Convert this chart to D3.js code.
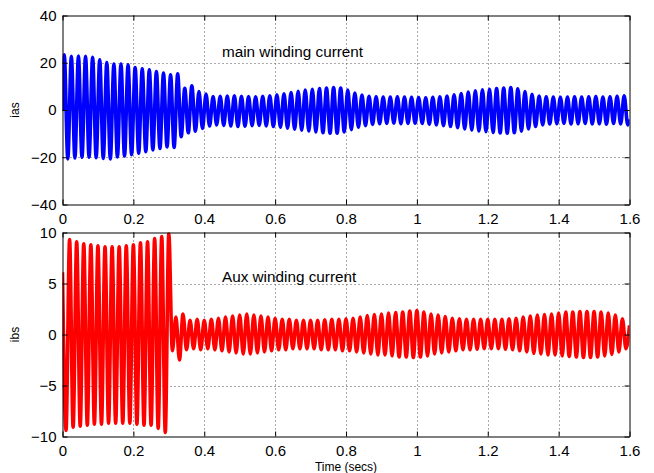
<!DOCTYPE html>
<html>
<head>
<meta charset="utf-8">
<script src="https://cdn.jsdelivr.net/npm/d3@7"></script>
<style>
  body { margin: 0; background: #fff; }
  svg { display: block; font-family: "Liberation Sans", Arial, sans-serif; }
</style>
</head>
<body>
<svg id="drawing_region"></svg>
<script>
// time axis ticks and y ticks
const xTicks = [0, 0.2, 0.4, 0.6, 0.8, 1, 1.2, 1.4, 1.6];
const iasTicks = [-40, -20, 0, 20, 40];
const ibsTicks = [-10, -5, 0, 5, 10];

// supply period (50 Hz)
const period = 0.02;

// main winding current: positive / negative peak of every cycle
const iasStart = 0, iasEnd = -4;
const iasUpper = [23.4, 22.7, 22.8, 22.7, 22.3, 21.3, 20.1, 19.4, 19.5, 19.1,
  18.0, 17.4, 17.0, 16.3, 15.6, 14.9, 15.3, 9.2, 10.2, 7.8,
  6.8, 5.7, 5.8, 5.9, 6.0, 5.8, 5.7, 5.6, 5.8, 6.0,
  6.4, 6.9, 7.4, 7.9, 8.4, 8.8, 9.1, 9.3, 9.5, 9.3,
  8.4, 7.2, 6.3, 5.8, 5.6, 5.5, 5.5, 5.6, 5.5, 5.4,
  5.3, 5.2, 5.4, 5.6, 5.9, 6.4, 7.0, 7.6, 8.1, 8.5,
  8.8, 9.1, 9.3, 9.5, 9.0, 7.8, 6.6, 5.9, 5.6, 5.5,
  5.4, 5.5, 5.6, 5.5, 5.6, 5.7, 5.5, 5.6, 5.8, 6.0];
const iasLower = [-20.7, -20.3, -20.0, -20.0, -20.2, -20.5, -20.7, -19.9, -19.5, -18.9,
  -18.3, -17.6, -16.9, -16.3, -15.6, -15.9, -11.3, -9.6, -9.0, -7.8,
  -6.8, -6.3, -6.5, -6.8, -7.0, -6.9, -6.6, -6.5, -6.7, -7.0,
  -7.3, -7.7, -8.1, -8.5, -8.9, -9.3, -9.6, -9.8, -9.8, -9.3,
  -8.3, -7.3, -6.6, -6.1, -5.8, -5.7, -5.6, -5.8, -5.7, -5.6,
  -5.7, -6.0, -6.3, -6.6, -7.0, -7.5, -8.0, -8.5, -8.9, -9.2,
  -9.5, -9.7, -9.8, -9.6, -9.0, -8.0, -7.0, -6.3, -5.9, -5.8,
  -5.7, -5.9, -5.8, -5.7, -5.9, -5.8, -6.0, -5.7, -5.9, -6.3];

// aux winding current: negative / positive peak of every cycle
const ibsStart = 6.1;
const ibsLower = [-9.4, -9.1, -9.0, -8.9, -8.8, -8.8, -8.7, -8.7, -8.7, -8.7,
  -8.8, -8.9, -8.9, -9.2, -9.6, -1.6, -2.5, -1.5, -1.4, -1.5,
  -1.4, -1.5, -1.6, -1.7, -1.8, -1.9, -1.9, -1.8, -1.7, -1.6,
  -1.5, -1.5, -1.4, -1.4, -1.4, -1.4, -1.5, -1.5, -1.5, -1.6,
  -1.6, -1.7, -1.8, -1.9, -2.0, -2.0, -2.1, -2.2, -2.2, -2.25,
  -2.2, -2.1, -1.9, -1.8, -1.7, -1.6, -1.5, -1.5, -1.45, -1.4,
  -1.4, -1.4, -1.45, -1.5, -1.6, -1.7, -1.85, -1.9, -2.0, -2.0,
  -2.1, -2.15, -2.2, -2.25, -2.25, -2.2, -2.1, -1.95, -1.7, -1.4];
const ibsUpper = [9.3, 9.1, 8.9, 8.8, 8.7, 8.6, 8.6, 8.6, 8.7, 8.8,
  9.0, 9.1, 9.4, 9.6, 9.9, 1.7, 2.0, 1.4, 1.5, 1.4,
  1.5, 1.6, 1.7, 1.8, 1.9, 2.0, 1.9, 1.8, 1.7, 1.6,
  1.5, 1.5, 1.4, 1.4, 1.4, 1.4, 1.45, 1.5, 1.5, 1.55,
  1.6, 1.7, 1.85, 1.95, 2.0, 2.1, 2.15, 2.2, 2.3, 2.35,
  2.2, 2.0, 1.9, 1.75, 1.6, 1.55, 1.5, 1.5, 1.5, 1.5,
  1.5, 1.5, 1.55, 1.6, 1.7, 1.8, 1.9, 1.95, 2.0, 2.1,
  2.2, 2.2, 2.25, 2.25, 2.25, 2.2, 2.1, 1.9, 1.55, 0.9];

const width = 654, height = 473;
const left = 62.5, right = 629.5;

const svg = d3.select('#drawing_region')
    .attr('width', width)
    .attr('height', height);

const x = d3.scaleLinear().domain([0, 1.6]).range([left, right]);

// turn the peak lists into alternating points
function peaks(first, second, offset, start, end) {
    let pts = [{t: 0, v: start}];
    first.forEach( (v, i) => {
        pts.push({t: offset + i * period, v: v});
        pts.push({t: offset + i * period + period / 2, v: second[i]});
    });
    if (end !== undefined) pts.push({t: 1.6, v: end});
    return pts;
}

const panels = [
    {id: 'a', top: 15.5, bottom: 204.5, domain: [-40, 40], ticks: iasTicks, label: 'ias',
     color: '#0000ff', data: peaks(iasUpper, iasLower, 0.005, iasStart, iasEnd),
     note: 'main winding current', noteAt: [0.45, 24.6]},
    {id: 'b', top: 232.5, bottom: 436.5, domain: [-10, 10], ticks: ibsTicks, label: 'ibs',
     color: '#ff0000', data: peaks(ibsLower, ibsUpper, 0.01, ibsStart),
     note: 'Aux winding current', noteAt: [0.45, 5.7]}
];

const fmt = d => String(d).replace('-', '\u2212');

panels.forEach( p => {
    const y = d3.scaleLinear().domain(p.domain).range([p.bottom, p.top]);
    const g = svg.append('g');

    g.append('clipPath').attr('id', 'clip' + p.id)
        .append('rect')
        .attr('x', left).attr('y', p.top)
        .attr('width', right - left).attr('height', p.bottom - p.top);

    // dotted grid
    g.selectAll('.vgrid')
        .data(xTicks.slice(1, -1))
        .enter().append('line')
        .attr('x1', d => Math.round(x(d)) + 0.5).attr('x2', d => Math.round(x(d)) + 0.5)
        .attr('y1', p.top).attr('y2', p.bottom)
        .attr('stroke', '#555').attr('stroke-dasharray', '1,3');
    g.selectAll('.hgrid')
        .data(p.ticks.slice(1, -1))
        .enter().append('line')
        .attr('x1', left).attr('x2', right)
        .attr('y1', d => Math.round(y(d)) + 0.5).attr('y2', d => Math.round(y(d)) + 0.5)
        .attr('stroke', '#555').attr('stroke-dasharray', '1,3');

    const line = d3.line()
        .x(d => x(d.t))
        .y(d => y(d.v))
        .curve(d3.curveMonotoneX);

    g.append('path')
        .datum(p.data)
        .attr('clip-path', 'url(#clip' + p.id + ')')
        .attr('d', line)
        .attr('fill', 'none')
        .attr('stroke', p.color)
        .attr('stroke-width', 3.6)
        .attr('stroke-linejoin', 'round');

    // axes on all four sides, ticks pointing inward
    const axes = [
        [d3.axisBottom(x).tickValues(xTicks).tickFormat(fmt), `translate(0,${p.bottom})`],
        [d3.axisTop(x).tickValues(xTicks).tickFormat(''), `translate(0,${p.top})`],
        [d3.axisLeft(y).tickValues(p.ticks).tickFormat(fmt), `translate(${left},0)`],
        [d3.axisRight(y).tickValues(p.ticks).tickFormat(''), `translate(${right},0)`]
    ];
    axes.forEach( ([ax, tr], i) => {
        const a = g.append('g')
            .attr('transform', tr)
            .call(ax.tickSize(-5).tickSizeOuter(0).tickPadding(i === 2 ? 6 : 8.5));
        a.select('.domain').attr('stroke', '#000');
        a.selectAll('.tick line').attr('stroke', '#000');
        a.selectAll('text')
            .attr('font-size', 15)
            .attr('font-family', '"Liberation Sans", Arial, sans-serif')
            .attr('fill', '#000');
    });

    g.append('text')
        .attr('transform', `translate(19,${(p.top + p.bottom) / 2}) rotate(-90)`)
        .attr('text-anchor', 'middle')
        .attr('font-size', 12)
        .text(p.label);

    g.append('text')
        .attr('x', x(p.noteAt[0]))
        .attr('y', y(p.noteAt[1]))
        .attr('dy', '0.35em')
        .attr('font-size', 15.3)
        .text(p.note);
});

svg.append('text')
    .attr('x', (left + right) / 2)
    .attr('y', 471)
    .attr('text-anchor', 'middle')
    .attr('font-size', 12)
    .text('Time (secs)');
</script>
</body>
</html>
